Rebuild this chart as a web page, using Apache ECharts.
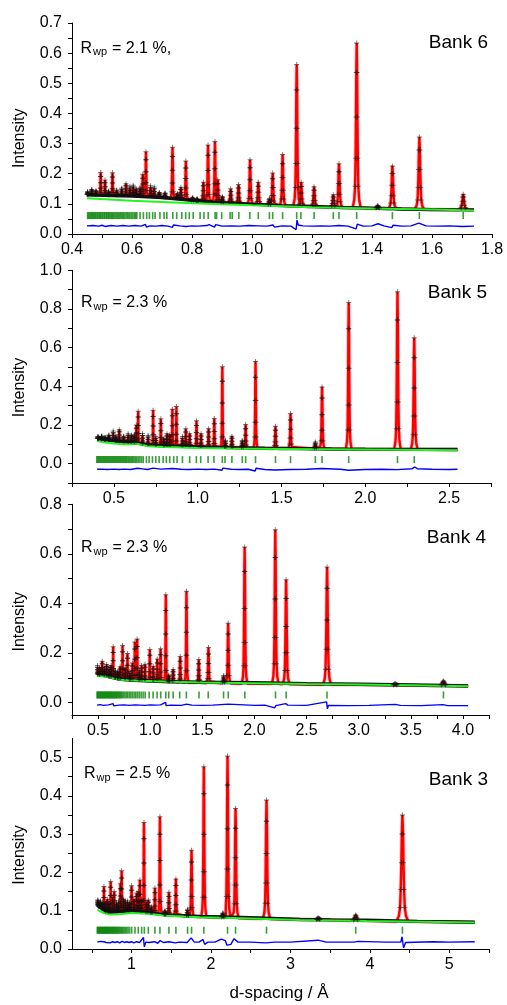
<!DOCTYPE html>
<html><head><meta charset="utf-8">
<script src="https://cdn.jsdelivr.net/npm/echarts@6/dist/echarts.min.js"></script>
<style>html,body{margin:0;padding:0;background:#fff}#c{width:507px;height:1005px}</style>
</head><body><div id="c"></div>
<script>
// ---------- DATA ----------
// peaks: [d-spacing, peak-top intensity, local base intensity]
const bank6Peaks = [[0.452,0.140,0.130],[0.466,0.148,0.130],[0.480,0.144,0.129],[0.4956,0.204,0.129],[0.510,0.179,0.129],[0.522,0.142,0.128],[0.535,0.203,0.128],[0.549,0.146,0.128],[0.566,0.153,0.128],[0.580,0.167,0.127],[0.593,0.158,0.127],[0.604,0.162,0.127],[0.614,0.150,0.127],[0.627,0.155,0.126],[0.636,0.198,0.126],[0.6465,0.273,0.126],[0.662,0.160,0.124],[0.674,0.156,0.123],[0.691,0.138,0.122],[0.710,0.136,0.120],[0.735,0.288,0.118],[0.751,0.134,0.117],[0.763,0.155,0.116],[0.7795,0.242,0.114],[0.802,0.120,0.111],[0.817,0.116,0.110],[0.838,0.172,0.108],[0.8535,0.295,0.107],[0.8765,0.307,0.106],[0.886,0.180,0.105],[0.901,0.124,0.104],[0.929,0.150,0.102],[0.9552,0.164,0.101],[0.9935,0.246,0.099],[1.021,0.172,0.098],[1.058,0.118,0.096],[1.069,0.202,0.096],[1.102,0.264,0.094],[1.149,0.562,0.093],[1.164,0.172,0.092],[1.207,0.157,0.091],[1.271,0.130,0.089],[1.290,0.233,0.088],[1.349,0.634,0.087],[1.419,0.094,0.085],[1.468,0.226,0.084],[1.558,0.322,0.082],[1.704,0.132,0.080]];
const bank6Band = [[0.45,0.130],[0.5,0.128],[0.6,0.126],[0.7,0.121],[0.8,0.112],[0.9,0.104],[1.0,0.099],[1.1,0.094],[1.2,0.091],[1.3,0.088],[1.4,0.086],[1.5,0.083],[1.6,0.081],[1.74,0.080]];
const bank6Bkg = [[0.45,0.119],[0.6,0.110],[0.8,0.102],[1.0,0.095],[1.2,0.089],[1.4,0.085],[1.6,0.081],[1.74,0.078]];
const bank6Ticks = [0.452,0.455,0.459,0.462,0.466,0.469,0.472,0.476,0.479,0.483,0.486,0.490,0.493,0.496,0.500,0.503,0.507,0.510,0.514,0.517,0.521,0.524,0.528,0.532,0.535,0.539,0.543,0.547,0.551,0.555,0.559,0.563,0.567,0.571,0.575,0.580,0.584,0.589,0.593,0.598,0.603,0.608,0.612,0.616,0.627,0.638,0.649,0.658,0.669,0.677,0.693,0.707,0.716,0.736,0.749,0.766,0.779,0.791,0.804,0.827,0.840,0.854,0.877,0.882,0.899,0.927,0.934,0.956,0.993,1.021,1.058,1.069,1.102,1.149,1.163,1.207,1.271,1.290,1.349,1.468,1.558,1.704];
const bank6Diff = [[0.45,0.027],[0.47,0.028],[0.49,0.026],[0.5,0.029],[0.51,0.025],[0.53,0.028],[0.55,0.026],[0.57,0.028],[0.59,0.026],[0.61,0.028],[0.63,0.026],[0.645,0.032],[0.648,0.023],[0.66,0.027],[0.68,0.026],[0.70,0.028],[0.72,0.026],[0.735,0.022],[0.738,0.030],[0.76,0.027],[0.78,0.025],[0.80,0.027],[0.82,0.026],[0.85,0.028],[0.853,0.022],[0.857,0.031],[0.875,0.023],[0.879,0.031],[0.90,0.026],[0.93,0.027],[0.96,0.026],[0.99,0.028],[0.995,0.024],[1.02,0.027],[1.05,0.026],[1.07,0.030],[1.075,0.023],[1.10,0.027],[1.13,0.026],[1.147,0.014],[1.150,0.046],[1.154,0.030],[1.17,0.027],[1.20,0.026],[1.23,0.027],[1.26,0.026],[1.29,0.028],[1.32,0.026],[1.347,0.017],[1.351,0.033],[1.37,0.026],[1.40,0.027],[1.42,0.034],[1.44,0.027],[1.466,0.021],[1.47,0.029],[1.50,0.026],[1.53,0.027],[1.556,0.036],[1.562,0.040],[1.58,0.027],[1.62,0.026],[1.66,0.027],[1.70,0.025],[1.74,0.026]];

const bank5Peaks = [[0.405,0.140,0.128],[0.427,0.143,0.126],[0.447,0.136,0.124],[0.470,0.148,0.121],[0.496,0.169,0.118],[0.512,0.142,0.117],[0.532,0.176,0.115],[0.558,0.142,0.113],[0.585,0.155,0.111],[0.605,0.148,0.110],[0.622,0.150,0.108],[0.634,0.200,0.107],[0.645,0.271,0.106],[0.671,0.156,0.100],[0.704,0.146,0.098],[0.734,0.276,0.096],[0.750,0.140,0.095],[0.780,0.232,0.094],[0.798,0.130,0.093],[0.817,0.155,0.092],[0.833,0.150,0.092],[0.849,0.282,0.091],[0.873,0.295,0.091],[0.909,0.140,0.090],[0.929,0.180,0.089],[0.952,0.155,0.089],[0.993,0.222,0.088],[1.020,0.155,0.087],[1.065,0.181,0.086],[1.099,0.233,0.085],[1.147,0.501,0.084],[1.165,0.120,0.084],[1.204,0.142,0.083],[1.266,0.120,0.082],[1.286,0.202,0.081],[1.345,0.528,0.080],[1.464,0.193,0.079],[1.554,0.259,0.078],[1.702,0.112,0.077],[1.742,0.397,0.077],[1.901,0.834,0.076],[2.192,0.889,0.075],[2.292,0.651,0.074]];
const bank5Band = [[0.40,0.128],[0.45,0.125],[0.5,0.118],[0.55,0.113],[0.6,0.110],[0.65,0.105],[0.7,0.098],[0.8,0.093],[0.9,0.090],[1.0,0.087],[1.2,0.083],[1.4,0.080],[1.6,0.078],[1.8,0.076],[2.0,0.075],[2.3,0.074],[2.55,0.073]];
const bank5Bkg = [[0.40,0.117],[0.45,0.110],[0.5,0.104],[0.55,0.101],[0.6,0.100],[0.625,0.104],[0.66,0.099],[0.7,0.090],[0.8,0.086],[1.0,0.081],[1.2,0.078],[1.5,0.076],[2.0,0.073],[2.55,0.069]];
const bank5Ticks = [0.398,0.404,0.410,0.416,0.422,0.428,0.434,0.440,0.446,0.452,0.458,0.464,0.470,0.476,0.482,0.488,0.494,0.500,0.506,0.512,0.518,0.524,0.530,0.536,0.542,0.548,0.554,0.560,0.566,0.572,0.578,0.585,0.592,0.599,0.606,0.613,0.620,0.628,0.636,0.645,0.655,0.665,0.675,0.694,0.710,0.730,0.750,0.770,0.794,0.813,0.833,0.857,0.877,0.909,0.952,0.992,1.018,1.062,1.097,1.147,1.163,1.204,1.266,1.286,1.345,1.464,1.554,1.702,1.742,1.901,2.192,2.292];
const bank5Diff = [[0.40,-0.029],[0.43,-0.028],[0.46,-0.030],[0.50,-0.028],[0.53,-0.030],[0.56,-0.028],[0.60,-0.030],[0.64,-0.024],[0.648,-0.034],[0.67,-0.027],[0.70,-0.030],[0.734,-0.023],[0.74,-0.033],[0.78,-0.028],[0.85,-0.025],[0.86,-0.032],[0.90,-0.029],[0.95,-0.030],[1.00,-0.028],[1.05,-0.030],[1.10,-0.028],[1.145,-0.034],[1.15,-0.023],[1.2,-0.029],[1.25,-0.030],[1.30,-0.029],[1.343,-0.038],[1.348,-0.024],[1.40,-0.030],[1.46,-0.033],[1.47,-0.029],[1.55,-0.030],[1.65,-0.029],[1.74,-0.025],[1.75,-0.030],[1.85,-0.029],[1.90,-0.034],[1.905,-0.026],[2.00,-0.030],[2.10,-0.029],[2.19,-0.031],[2.20,-0.028],[2.28,-0.026],[2.295,-0.017],[2.31,-0.026],[2.4,-0.029],[2.5,-0.030],[2.55,-0.029]];

const bank4Peaks = [[0.495,0.150,0.111],[0.515,0.140,0.111],[0.540,0.167,0.110],[0.560,0.140,0.109],[0.582,0.154,0.107],[0.605,0.140,0.104],[0.625,0.150,0.102],[0.645,0.225,0.100],[0.665,0.130,0.098],[0.690,0.125,0.096],[0.712,0.145,0.095],[0.735,0.230,0.094],[0.760,0.140,0.093],[0.782,0.198,0.092],[0.805,0.125,0.091],[0.830,0.160,0.090],[0.853,0.244,0.090],[0.875,0.257,0.089],[0.895,0.130,0.089],[0.917,0.150,0.088],[0.950,0.155,0.087],[0.996,0.214,0.086],[1.030,0.147,0.085],[1.068,0.176,0.085],[1.100,0.217,0.084],[1.150,0.435,0.084],[1.178,0.110,0.083],[1.220,0.134,0.083],[1.288,0.186,0.082],[1.348,0.449,0.081],[1.466,0.174,0.080],[1.559,0.222,0.079],[1.705,0.109,0.078],[1.748,0.320,0.078],[1.906,0.628,0.077],[2.200,0.697,0.076],[2.304,0.496,0.075],[2.697,0.547,0.073],[3.350,0.076,0.071],[3.813,0.087,0.069]];
const bank4Band = [[0.49,0.112],[0.55,0.110],[0.6,0.105],[0.65,0.100],[0.7,0.095],[0.8,0.091],[1.0,0.087],[1.2,0.084],[1.5,0.082],[2.0,0.080],[2.5,0.076],[3.0,0.074],[3.5,0.071],[4.05,0.067]];
const bank4Bkg = [[0.49,0.107],[0.6,0.104],[0.66,0.097],[0.72,0.092],[0.9,0.088],[1.2,0.084],[1.5,0.081],[2.0,0.078],[2.5,0.075],[3.0,0.073],[3.5,0.070],[4.05,0.066]];
const bank4Ticks = [0.490,0.497,0.504,0.511,0.518,0.525,0.532,0.539,0.546,0.553,0.560,0.567,0.574,0.581,0.588,0.595,0.602,0.609,0.616,0.623,0.630,0.637,0.645,0.653,0.661,0.669,0.677,0.685,0.694,0.703,0.712,0.722,0.732,0.745,0.758,0.772,0.785,0.800,0.815,0.830,0.846,0.862,0.878,0.895,0.913,0.932,0.952,0.990,1.028,1.066,1.101,1.150,1.178,1.220,1.283,1.347,1.468,1.557,1.704,1.749,1.908,2.202,2.304,2.696,3.813];
const bank4Diff = [[0.49,-0.010],[0.52,-0.008],[0.55,-0.011],[0.60,-0.009],[0.645,-0.004],[0.65,-0.013],[0.70,-0.010],[0.75,-0.009],[0.80,-0.011],[0.85,-0.009],[0.90,-0.010],[0.95,-0.011],[1.00,-0.009],[1.05,-0.010],[1.10,-0.009],[1.148,0.001],[1.152,-0.012],[1.20,-0.010],[1.30,-0.011],[1.346,-0.006],[1.35,-0.013],[1.40,-0.010],[1.50,-0.011],[1.60,-0.010],[1.75,-0.006],[1.76,-0.011],[1.90,-0.009],[2.0,-0.011],[2.10,-0.010],[2.195,-0.021],[2.205,-0.012],[2.30,-0.004],[2.32,-0.010],[2.50,-0.011],[2.692,0.003],[2.700,-0.025],[2.71,-0.011],[2.90,-0.012],[3.10,-0.011],[3.35,-0.007],[3.40,-0.011],[3.60,-0.012],[3.81,-0.008],[3.85,-0.012],[4.05,-0.012]];

const bank3Peaks = [[0.575,0.128,0.113],[0.590,0.120,0.110],[0.610,0.125,0.107],[0.630,0.118,0.104],[0.652,0.163,0.100],[0.670,0.120,0.097],[0.695,0.130,0.095],[0.715,0.120,0.095],[0.737,0.176,0.095],[0.760,0.135,0.096],[0.782,0.150,0.096],[0.810,0.120,0.097],[0.835,0.125,0.098],[0.860,0.170,0.099],[0.875,0.204,0.099],[0.900,0.130,0.100],[0.925,0.125,0.100],[0.950,0.125,0.100],[0.975,0.120,0.100],[1.000,0.165,0.100],[1.030,0.130,0.099],[1.064,0.146,0.098],[1.085,0.150,0.098],[1.105,0.180,0.097],[1.127,0.130,0.097],[1.156,0.330,0.096],[1.185,0.120,0.095],[1.211,0.128,0.094],[1.250,0.110,0.093],[1.294,0.159,0.092],[1.357,0.345,0.091],[1.420,0.100,0.089],[1.470,0.148,0.088],[1.558,0.183,0.087],[1.705,0.104,0.085],[1.755,0.258,0.085],[1.910,0.476,0.084],[2.150,0.094,0.082],[2.208,0.504,0.082],[2.309,0.367,0.081],[2.699,0.389,0.079],[3.350,0.081,0.077],[3.822,0.089,0.074],[4.410,0.350,0.072]];
const bank3Band = [[0.57,0.115],[0.65,0.102],[0.73,0.096],[0.85,0.098],[1.0,0.100],[1.2,0.095],[1.44,0.089],[1.86,0.085],[2.28,0.083],[2.6,0.081],[3.12,0.077],[3.5,0.076],[3.96,0.075],[4.6,0.072],[5.32,0.070]];
const bank3Bkg = [[0.57,0.102],[0.65,0.094],[0.73,0.090],[0.85,0.091],[1.0,0.094],[1.2,0.092],[1.44,0.087],[1.86,0.083],[2.28,0.081],[3.12,0.076],[3.96,0.073],[5.32,0.069]];
const bank3Ticks = [0.568,0.576,0.584,0.592,0.600,0.608,0.616,0.624,0.632,0.640,0.648,0.656,0.664,0.672,0.680,0.688,0.696,0.704,0.712,0.720,0.729,0.738,0.747,0.756,0.765,0.774,0.783,0.792,0.802,0.812,0.822,0.832,0.843,0.854,0.866,0.878,0.890,0.905,0.920,0.937,0.955,0.975,1.001,1.043,1.085,1.127,1.161,1.211,1.294,1.357,1.470,1.558,1.705,1.755,1.910,2.208,2.309,2.699,3.822,4.410];
const bank3Diff = [[0.57,0.018],[0.6,0.020],[0.62,0.016],[0.65,0.019],[0.68,0.017],[0.70,0.020],[0.73,0.016],[0.76,0.019],[0.79,0.017],[0.82,0.019],[0.85,0.016],[0.88,0.020],[0.91,0.017],[0.94,0.019],[0.97,0.017],[1.0,0.019],[1.03,0.016],[1.06,0.019],[1.10,0.017],[1.15,0.030],[1.16,0.006],[1.18,0.018],[1.22,0.017],[1.29,0.019],[1.33,0.015],[1.36,0.022],[1.40,0.017],[1.47,0.019],[1.55,0.016],[1.6,0.018],[1.70,0.017],[1.75,0.029],[1.79,0.018],[1.85,0.018],[1.90,0.025],[1.92,0.012],[1.96,0.018],[2.05,0.018],[2.13,0.026],[2.18,0.022],[2.20,0.010],[2.22,0.014],[2.25,0.012],[2.29,0.027],[2.34,0.018],[2.50,0.018],[2.69,0.016],[2.71,0.021],[2.80,0.018],[3.0,0.018],[3.35,0.023],[3.45,0.018],[3.8,0.018],[3.85,0.020],[4.2,0.018],[4.39,0.018],[4.405,0.032],[4.425,0.003],[4.45,0.017],[4.8,0.019],[5.0,0.018],[5.32,0.019]];

const bankNames = ['Bank 6','Bank 5','Bank 4','Bank 3'];
const rwpValues = [' = 2.1 %,',' = 2.3 %',' = 2.3 %',' = 2.5 %'];
const tickLevels = [0.061, 0.021, 0.031, 0.049];
const xLabels = [[0.4,0.6,0.8,1.0,1.2,1.4,1.6,1.8],[0.5,1.0,1.5,2.0,2.5],[0.5,1.0,1.5,2.0,2.5,3.0,3.5,4.0],[1,2,3,4,5]];
const yLabels = [[0,0.1,0.2,0.3,0.4,0.5,0.6,0.7],[0,0.2,0.4,0.6,0.8,1.0],[0,0.2,0.4,0.6,0.8],[0,0.1,0.2,0.3,0.4,0.5]];

// ---------- LAYOUT / STYLE ----------
const FONT = '"Liberation Sans", Arial, Helvetica, sans-serif';
const layout = [
  {top:23, height:211, width:420, xmin:0.4, xmax:1.8, xstep:0.1, ymin:0, ymax:0.7, ystep:0.05, rel:0.010, xdec:1},
  {top:270.3, height:212.7, width:419, xmin:0.25, xmax:2.75, xstep:0.25, ymin:-0.1, ymax:1.0, ystep:0.1, rel:0.009, xdec:1},
  {top:504.3, height:210.7, width:417, xmin:0.25, xmax:4.25, xstep:0.25, ymin:-0.05, ymax:0.8, ystep:0.1, rel:0.014, xdec:1},
  {top:738.3, height:210.7, width:417, xmin:0.25, xmax:5.5, xstep:0.5, ymin:0, ymax:0.55, ystep:0.05, rel:0.017, xdec:0}
];
const SHAPE_T = [-1,-0.6,-0.4,-0.28,-0.18,-0.1,0,0.1,0.18,0.28,0.4,0.6,1];
const SHAPE_F = [0,0.05,0.13,0.3,0.55,0.82,1,0.82,0.55,0.3,0.13,0.05,0];

const banks = [
  {peaks:bank6Peaks, band:bank6Band, bkg:bank6Bkg, ticks:bank6Ticks, diff:bank6Diff},
  {peaks:bank5Peaks, band:bank5Band, bkg:bank5Bkg, ticks:bank5Ticks, diff:bank5Diff},
  {peaks:bank4Peaks, band:bank4Band, bkg:bank4Bkg, ticks:bank4Ticks, diff:bank4Diff},
  {peaks:bank3Peaks, band:bank3Band, bkg:bank3Bkg, ticks:bank3Ticks, diff:bank3Diff}
];

function buildProfile(b, rel){
  const pts = [b.band[0].slice()];
  b.peaks.forEach(([d,top,base])=>{
    const hw = rel*d;
    SHAPE_T.forEach((t,k)=>pts.push([d+t*hw, base+(top-base)*SHAPE_F[k]]));
  });
  pts.push(b.band[b.band.length-1].slice());
  return pts;
}
function crossPoints(b, rel){
  const pts = [];
  b.peaks.forEach(([d,top,base])=>{
    const hw = rel*d;
    SHAPE_T.forEach((t,k)=>{ if (SHAPE_F[k] >= 0.1) pts.push([d+t*hw, base+(top-base)*SHAPE_F[k]]); });
  });
  return pts;
}
function steps(a, b, s){ const out=[]; const n=Math.round((b-a)/s); for(let i=0;i<=n;i++) out.push(+(a+i*s).toFixed(4)); return out; }

const PLUS = 'path://M2,0H3V2H5V3H3V5H2V3H0V2H2Z';
const grids=[], xAxes=[], yAxes=[], series=[], graphics=[];
layout.forEach((L,i)=>{
  grids.push({left:72, top:L.top, width:L.width, height:L.height});
  const axisFont = {fontSize:16, color:'#000', fontFamily:FONT};
  xAxes.push({type:'value', gridIndex:i, min:L.xmin, max:L.xmax,
    axisLine:{show:true, onZero:false, lineStyle:{color:'#000', width:1}},
    axisTick:{show:true, length:4, lineStyle:{color:'#000'}, customValues: steps(i===3?0.5:L.xmin, L.xmax, L.xstep)},
    axisLabel:Object.assign({margin:8, customValues:xLabels[i], formatter:v=>(+v).toFixed(L.xdec)}, axisFont),
    splitLine:{show:false}});
  const y0 = (i===1) ? -0.1 : 0;
  yAxes.push({type:'value', gridIndex:i, min:L.ymin, max:L.ymax,
    axisLine:{show:true, onZero:false, lineStyle:{color:'#000', width:1}},
    axisTick:{show:true, length:4, lineStyle:{color:'#000'}, customValues: steps(y0, i===3?0.5:L.ymax, L.ystep)},
    axisLabel:Object.assign({margin:10, customValues:yLabels[i], formatter:v=>(+v).toFixed(1)}, axisFont),
    splitLine:{show:false}});
  const b = banks[i];
  const prof = buildProfile(b, L.rel);
  const common = {xAxisIndex:i, yAxisIndex:i, animation:false, silent:true};
  series.push(Object.assign({type:'line', data:prof, showSymbol:false, symbol:'none', lineStyle:{color:'rgba(255,40,40,0.3)', width:4}, z:1}, common));
  series.push(Object.assign({type:'line', data:prof, showSymbol:false, symbol:'none', lineStyle:{color:'#ff0000', width:2.4}, z:2}, common));
  series.push(Object.assign({type:'line', data:b.band, showSymbol:false, symbol:'none', lineStyle:{color:'#111', width:3.4}, z:3}, common));
  series.push(Object.assign({type:'line', data:b.bkg, showSymbol:false, symbol:'none', lineStyle:{color:'#22f522', width:2}, z:4}, common));
  series.push(Object.assign({type:'scatter', data:crossPoints(b, L.rel), symbol:PLUS, symbolSize:5, itemStyle:{color:'#111', opacity:0.55}, z:5}, common));
  series.push(Object.assign({type:'scatter', data:b.ticks.map(d=>[d, tickLevels[i]]), symbol:'rect', symbolSize:[1.6,7], itemStyle:{color:'#0a850a'}, z:3}, common));
  series.push(Object.assign({type:'line', data:b.diff, showSymbol:false, symbol:'none', lineStyle:{color:'#0000ff', width:1.4}, z:3}, common));
});

// text annotations
const rwpPos = [{x:80.5,y:48.3},{x:81,y:302.5},{x:81,y:547.5},{x:84,y:774}];
const bankPos = [{x:488,y:43},{x:487,y:292.5},{x:486,y:538},{x:488,y:780}];
const intensityY = [138.3, 387.5, 621.7, 855];
rwpPos.forEach((p,i)=>{
  graphics.push({type:'text', x:p.x, y:p.y, style:{text:'R', font:'16px '+FONT, fill:'#000', verticalAlign:'middle'}});
  graphics.push({type:'text', x:p.x+12.5, y:p.y+4, style:{text:'wp', font:'11px '+FONT, fill:'#000', verticalAlign:'middle'}});
  graphics.push({type:'text', x:p.x+27, y:p.y, style:{text:rwpValues[i], font:'16px '+FONT, fill:'#000', verticalAlign:'middle'}});
  graphics.push({type:'text', x:bankPos[i].x, y:bankPos[i].y, style:{text:bankNames[i], font:'19px '+FONT, fill:'#000', align:'right', verticalAlign:'middle'}});
  graphics.push({type:'text', x:20, y:intensityY[i], rotation:Math.PI/2, style:{text:'Intensity', font:'16px '+FONT, fill:'#000', align:'center', verticalAlign:'middle'}});
});
graphics.push({type:'text', x:279, y:993, style:{text:'d-spacing / Å', font:'17px '+FONT, fill:'#000', align:'center', verticalAlign:'middle'}});

const chart = echarts.init(document.getElementById('c'), null, {renderer:'canvas'});
chart.setOption({animation:false, backgroundColor:'#fff', grid:grids, xAxis:xAxes, yAxis:yAxes, series:series, graphic:graphics});
</script></body></html>
